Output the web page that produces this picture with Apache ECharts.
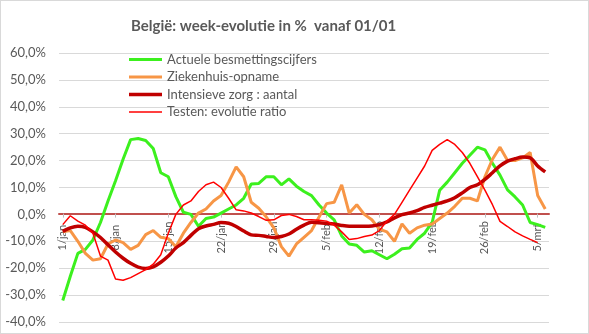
<!DOCTYPE html>
<html>
<head>
<meta charset="utf-8">
<script src="https://cdn.jsdelivr.net/npm/echarts@6/dist/echarts.min.js"></script>
<style>
html,body{margin:0;padding:0;background:#fff;}
#c{width:589px;height:334px;box-sizing:border-box;border:1px solid #D9D9D9;}
</style>
</head>
<body>
<div id="c"></div>
<script>
const categories = [];
const monthDays = [['jan',31],['feb',28],['mrt',6]];
for (const [m, n] of monthDays) for (let d = 1; d <= n; d++) categories.push(d + '/' + m);

const seriesNames = ['Actuele besmettingscijfers','Ziekenhuis-opname','Intensieve zorg : aantal','Testen: evolutie ratio'];

const besmettingen = [-32,-23,-14.5,-13,-9.5,-3,5,12.5,20.5,27.8,28.2,27.5,24.5,15.5,14,6.6,0.8,0,-4.4,-1.5,-1,0.5,2,3.5,6,11.3,11.5,14,14,11,13.2,10.5,8.5,7,3.5,0.5,-2,-8,-11,-11.5,-14,-13.5,-15,-16.5,-14.8,-12.8,-12.5,-9.3,-7,-3,9,12,15.5,19,22,25,24,19,14.6,9.1,6.5,3.5,-3,-3.8,-4.8];

const ziekenhuis = [-6.5,-6,-10,-14.5,-17,-16.5,-11,-9.5,-10.5,-13,-11.5,-7.5,-6,-8.5,-9,-12,-7,-3,0.5,2,5,7,12,17.7,14,4.5,2.3,-1,-5,-12,-15.5,-11,-8.5,-6,-1,4,4.5,11,0.5,3.6,0,-2,-5.5,-6.5,-10,-3.5,-7,-5,-4,-3.6,-1.5,0.5,3,6,6,5,14,20.5,25,20,20,21,23,7,2];

const intensieve = [-6.3,-5,-4.4,-4.8,-6.5,-8.6,-11.3,-14,-16.3,-18.2,-19.6,-20.1,-19.5,-17.8,-15.5,-12.5,-10.5,-7.8,-5.3,-4.3,-3.7,-3,-3.3,-4.5,-6.2,-7.6,-7.8,-8.2,-8.6,-8.2,-7.3,-5.5,-4,-2.9,-3.1,-3.3,-3.6,-4.1,-4.4,-4.4,-4.4,-4.3,-3.8,-2.8,-1.3,-0.1,0.5,1.4,2.6,3.4,4.2,5,6.2,8,10,11,13,15.5,18,19.8,20.7,21.3,21,18,15.8];

const testen = [-3.8,-0.5,-2.5,-4,-7,-15.5,-17,-24,-24.5,-23.5,-22,-20.5,-18.5,-15,-7,0,3.5,5,8.5,11,12,10,6,1.7,1.3,0.5,-0.8,-2.2,-2,-0.4,0,-0.8,-2,-2,-2.2,-2.5,-4,-6.5,-9.3,-9,-8.2,-7.7,-6,-2.5,0,4.5,9,13.5,18,23.8,26,27.8,26,23,19,14,9,3.6,-2.6,-4.5,-6.5,-8,-9.3,-10.5,null];

const yMin = -40, yMax = 60, yStep = 10;
const titleText = 'België: week-evolutie in %  vanaf 01/01';

const colors = ['#3CF01E','#F79646','#C00000','#FF0000'];
const widths = [3,3,3.5,1.5];
const dataSets = [besmettingen, ziekenhuis, intensieve, testen];

const gridTop = 52, gridBottom = 11, H = 334;
const plotH = H - gridTop - gridBottom;
const zeroOffset = plotH * (0 - yMin) / (yMax - yMin);

const font = 'Lato, "Liberation Sans", sans-serif';
const chart = echarts.init(document.getElementById('c'), null, {renderer:'canvas'});
chart.setOption({
  animation:false,
  title:{text:titleText,left:125,top:13,textStyle:{fontFamily:font,fontSize:15,fontWeight:'bold',color:'#595959'}},
  legend:{
    orient:'vertical',left:123,top:47,itemWidth:33,itemHeight:14,itemGap:4.5,symbolKeepAspect:true,
    textStyle:{fontFamily:font,fontSize:13,color:'#595959'},
    data:seriesNames.map((n,i)=>({name:n,icon:'path://M0,0H33V'+widths[i]+'H0Z',itemStyle:{color:colors[i]}}))
  },
  grid:{left:58,right:39,top:gridTop,bottom:gridBottom,containLabel:false},
  xAxis:{
    type:'category',data:categories,boundaryGap:true,
    offset:-zeroOffset,
    axisLine:{onZero:false,lineStyle:{color:'#C0504D',width:2}},
    axisTick:{show:true,interval:6,alignWithLabel:true,length:4,lineStyle:{color:'#BFBFBF'}},
    axisLabel:{interval:6,rotate:90,margin:24,align:'center',verticalAlign:'middle',fontFamily:font,fontSize:11,color:'#595959'},
    splitLine:{show:false}
  },
  yAxis:{
    type:'value',min:yMin,max:yMax,interval:yStep,
    axisLine:{show:false},axisTick:{show:false},
    axisLabel:{fontFamily:font,fontSize:13,color:'#595959',margin:13,
      formatter:v=>v.toFixed(1).replace('.',',')+'%'},
    splitLine:{lineStyle:{color:'#D9D9D9',width:1}}
  },
  series:seriesNames.map((n,i)=>({
    name:n,type:'line',data:dataSets[i],symbol:'none',showSymbol:false,
    smooth:i===2?0.3:false,
    lineStyle:{color:colors[i],width:widths[i]},itemStyle:{color:colors[i]},
    z:2+i
  }))
});
</script>
</body>
</html>
